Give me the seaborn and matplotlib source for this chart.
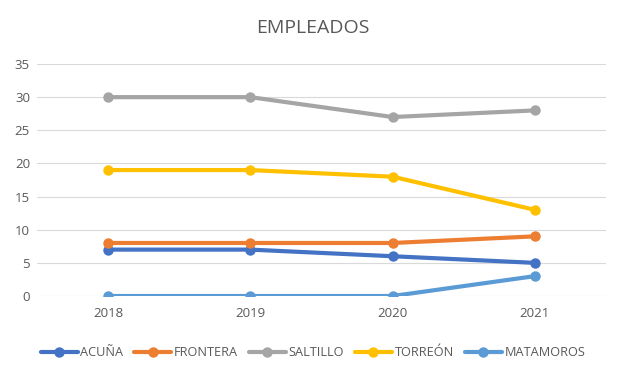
import pandas as pd
import seaborn as sns
import matplotlib.pyplot as plt

# Values
YEARS = ["2018", "2019", "2020", "2021"]
SERIES = ["ACUÑA", "FRONTERA", "SALTILLO", "TORREÓN", "MATAMOROS"]
ACUNA = [7, 7, 6, 5]
FRONTERA = [8, 8, 8, 9]
SALTILLO = [30, 30, 27, 28]
TORREON = [19, 19, 18, 13]
MATAMOROS = [0, 0, 0, 3]
COLORS = ["#4472C4", "#ED7D31", "#A5A5A5", "#FFC000", "#5B9BD5"]
TEXT_COLOR = "#595959"


def build_frame():
    rows = []
    for name, values in zip(SERIES, [ACUNA, FRONTERA, SALTILLO, TORREON, MATAMOROS]):
        for year, v in zip(YEARS, values):
            rows.append({"Año": year, "Empleados": v, "Ciudad": name})
    return pd.DataFrame(rows)


def plot_lines(df):
    sns.set_style("white")
    plt.rcParams["font.family"] = ["Open Sans", "DejaVu Sans"]

    fig = plt.figure(figsize=(6.25, 3.73), dpi=100)
    ax = fig.add_axes([0.0592, 0.2064, 0.9104, 0.622])

    sns.lineplot(data=df, x="Año", y="Empleados", hue="Ciudad", hue_order=SERIES,
                 palette=COLORS, marker="o", markersize=7.5, markeredgewidth=0,
                 linewidth=3, sort=False, ax=ax, zorder=3)

    ax.set_ylim(0, 35)
    ax.set_yticks(range(0, 36, 5))
    ax.set_xlim(-0.5, len(YEARS) - 0.5)
    ax.yaxis.grid(True, color="#D9D9D9", linewidth=0.8)
    ax.xaxis.grid(False)
    for s in ax.spines.values():
        s.set_visible(False)
    ax.tick_params(axis="both", length=0, labelsize=9.5, labelcolor=TEXT_COLOR, pad=8)
    ax.tick_params(axis="y", pad=5)
    ax.set_xlabel("")
    ax.set_ylabel("")

    fig.text(0.5, 0.925, "EMPLEADOS", ha="center", va="center",
             fontsize=14, color=TEXT_COLOR)

    handles, labels = ax.get_legend_handles_labels()
    ax.legend(handles, labels, loc="center", bbox_to_anchor=(0.485, -0.245),
              ncol=5, frameon=False, fontsize=9.2, labelcolor=TEXT_COLOR,
              handlelength=2.9, handletextpad=0.2, columnspacing=0.85)

    fig.savefig("out.png", dpi=100)


if __name__ == "__main__":
    data = build_frame()
    plot_lines(data)
